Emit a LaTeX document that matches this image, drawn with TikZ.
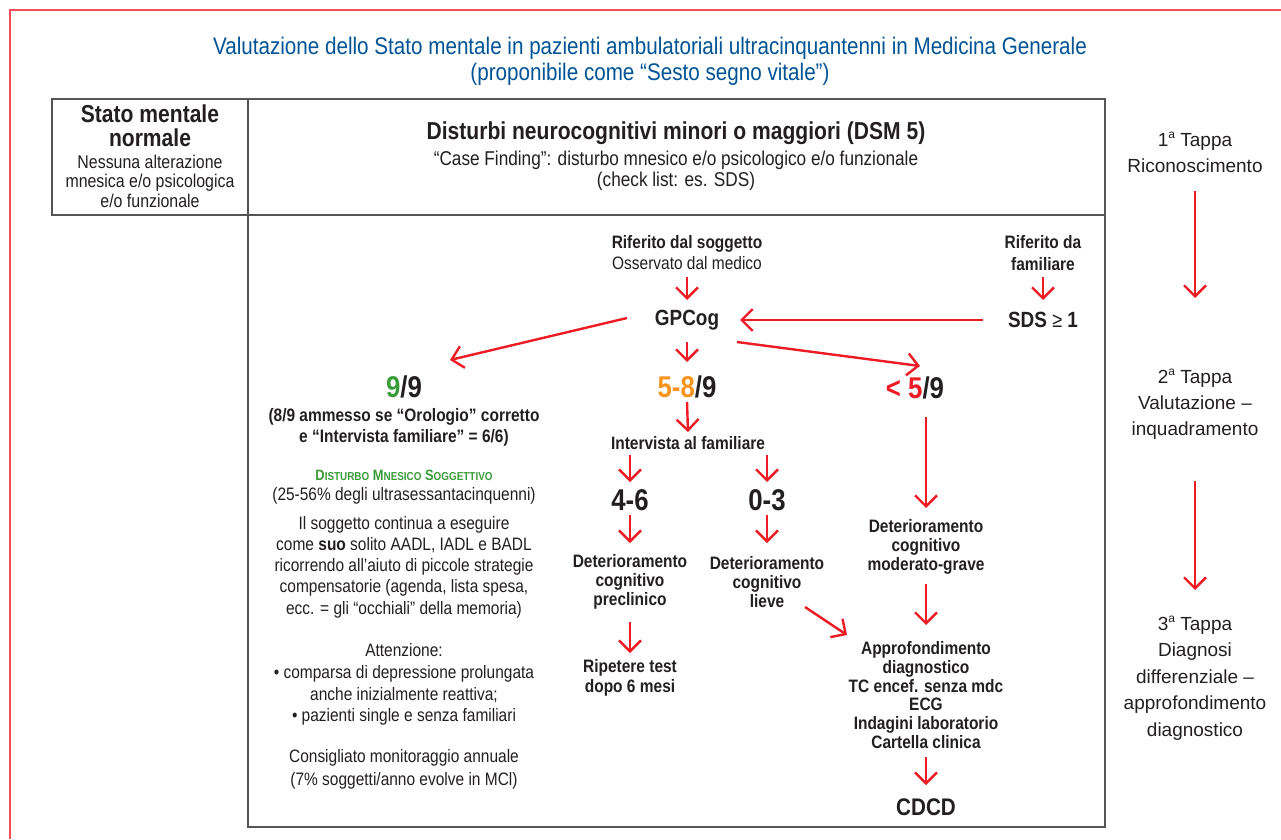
\documentclass[tikz,border=0pt]{standalone}
\usepackage{fontspec}
\setmainfont{Liberation Sans}[FakeStretch=0.86]
\newfontfamily\widefont{Liberation Sans}
\usetikzlibrary{arrows.meta}
\definecolor{ink}{RGB}{35,31,32}
\definecolor{arrred}{RGB}{237,28,36}
\definecolor{framered}{RGB}{242,76,88}
\definecolor{titleblue}{RGB}{0,84,150}
\definecolor{okgreen}{RGB}{57,155,58}
\definecolor{midorange}{RGB}{247,148,29}
\definecolor{rulegray}{RGB}{85,85,85}
\newcommand\fsz[2]{\fontsize{#1}{#2}\selectfont}
\newcommand\supa{\raisebox{0.42em}{\fontsize{12}{12}\selectfont a}}
\begin{document}
\begin{tikzpicture}[x=1pt,y=-1pt,
  arr/.style={draw=arrred, line width=2.4pt, -{Straight Barb[length=11pt,width=22pt]}},
  txt/.style={inner sep=0pt, align=center, text=ink},
  bb/.style={txt, font=\fsz{18}{18.7}\bfseries},
  rr/.style={txt, font=\fsz{18}{21.3}},
  big/.style={txt, font=\fsz{30}{30}\bfseries},
  tap/.style={txt, font=\widefont\fsz{19}{26}},
  frame/.style={draw=framered, line width=2pt},
  tab/.style={draw=rulegray, line width=1.3pt}
]
\useasboundingbox (0,0) rectangle (1281,839);
% outer red frame
\draw[frame] (10,839) -- (10,10) -- (1281,10);
% table
\draw[tab] (52,99) rectangle (248,215);
\draw[tab] (248,99) rectangle (1105,215);
\draw[tab] (248,215) rectangle (1105,827);

% title
\node[txt, text=titleblue, font=\fsz{24}{26}] (title) at (650,61)
  {Valutazione dello Stato mentale in pazienti ambulatoriali ultracinquantenni in Medicina Generale\\(proponibile come “Sesto segno vitale”)};

% header row
\node[txt, font=\fsz{24.5}{24}\bfseries] (normT) at (150,126) {Stato mentale\\normale};
\node[txt, font=\fsz{18.5}{19.5}] (normD) at (150,181) {Nessuna alterazione\\mnesica e/o psicologica\\e/o funzionale};
\node[txt, font=\fsz{24.5}{25}\bfseries] (dsm) at (676,133) {Disturbi neurocognitivi minori o maggiori (DSM 5)};
\node[txt, font=\fsz{20}{21}] (cf) at (676,171) {“Case Finding”: disturbo mnesico e/o psicologico e/o funzionale\\(check list: es. SDS)};

% right column
\node[tap] (t1) at (1195,152.5) {1\supa{} Tappa\\Riconoscimento};
\node[tap] (t2) at (1195,404) {2\supa{} Tappa\\Valutazione –\\inquadramento};
\node[tap, font=\widefont\fsz{19}{26.5}] (t3) at (1195,678) {3\supa{} Tappa\\Diagnosi\\differenziale –\\approfondimento\\diagnostico};
\draw[arr] ([yshift=-38.5pt]t1.center) -- ([yshift=106pt]t2.center);
\draw[arr] ([yshift=-77pt]t2.center) -- ([yshift=88pt]t3.center);

% top of flow
\node[txt, font=\fsz{18}{21}] (rif) at (687,252.5) {\textbf{Riferito dal soggetto}\\Osservato dal medico};
\node[bb, font=\fsz{18}{22}\bfseries] (fam) at (1043,253) {Riferito da\\familiare};
\node[txt, font=\fsz{22}{22}\bfseries] (gp) at (687,320) {GPCog};
\node[txt, font=\fsz{22}{22}\bfseries] (sds) at (1043,320) {SDS {\mdseries\fsz{21}{21}≥} 1};
\draw[arr] ([yshift=-24.5pt]rif.center) -- ([yshift=20pt]gp.center);
\draw[arr] ([yshift=-24pt]fam.center) -- ([yshift=20pt]sds.center);
\draw[arr] ([xshift=-60pt]sds.center) -- ([xshift=53pt]gp.center);

% scores
\node[big] (nine) at (404,387) {\textcolor{okgreen}{9}/9};
\node[big] (mid) at (687,387) {\textcolor{midorange}{5-8}/9};
\node[big] (low) at (915,388) {\textcolor{arrred}{< 5}/9};
\draw[arr] ([xshift=-60pt,yshift=2pt]gp.center) -- ([xshift=46pt,yshift=27pt]nine.center);
\draw[arr] ([yshift=-22pt]gp.center) -- ([yshift=25pt]mid.center);
\draw[arr] ([xshift=50pt,yshift=-22pt]gp.center) -- ([xshift=5pt,yshift=22pt]low.center);

% left column (9/9)
\node[bb, font=\fsz{18}{21}\bfseries] (nineA) at (404,427.5) {(8/9 ammesso se “Orologio” corretto\\e “Intervista familiare” = 6/6)};
\node[txt, text=okgreen, font=\fsz{15}{15}\bfseries] (dms) at (404,475)
  {D{\fsz{11.5}{11.5}ISTURBO} M{\fsz{11.5}{11.5}NESICO} S{\fsz{11.5}{11.5}OGGETTIVO}};
\node[rr] (perc) at (404,495.5) {(25-56\% degli ultrasessantacinquenni)};
\node[rr] (cont) at (404,567) {Il soggetto continua a eseguire\\come \textbf{suo} solito AADL, IADL e BADL\\ricorrendo all’aiuto di piccole strategie\\compensatorie (agenda, lista spesa,\\ecc. = gli “occhiali” della memoria)};
\node[rr, font=\fsz{18}{21.7}] (att) at (404,684.5) {Attenzione:\\• comparsa di depressione prolungata\\anche inizialmente reattiva;\\• pazienti single e senza familiari};
\node[rr, font=\fsz{18}{23}] (mon) at (404,769.5) {Consigliato monitoraggio annuale\\(7\% soggetti/anno evolve in MCl)};

% middle column
\node[bb] (int) at (688,443) {Intervista al familiare};
\node[big] (a46) at (630,500) {4-6};
\node[big] (a03) at (767,500) {0-3};
\node[bb] (pre) at (630,582) {Deterioramento\\cognitivo\\preclinico};
\node[bb] (lie) at (767,582) {Deterioramento\\cognitivo\\lieve};
\node[bb, font=\fsz{18}{19.5}\bfseries] (rip) at (630,678) {Ripetere test\\dopo 6 mesi};
\draw[arr] ([yshift=-15pt]mid.center) -- ([yshift=11pt]int.center);
\draw[arr] ([xshift=-58pt,yshift=-12pt]int.center) -- ([yshift=18pt]a46.center);
\draw[arr] ([xshift=79pt,yshift=-12pt]int.center) -- ([yshift=18pt]a03.center);
\draw[arr] ([yshift=-15pt]a46.center) -- ([yshift=39pt]pre.center);
\draw[arr] ([yshift=-15pt]a03.center) -- ([yshift=39pt]lie.center);
\draw[arr] ([yshift=-40pt]pre.center) -- ([yshift=25pt]rip.center);

% right branch
\node[bb] (mod) at (926,547) {Deterioramento\\cognitivo\\moderato-grave};
\node[bb, font=\fsz{18}{18.8}\bfseries] (app) at (926,695) {Approfondimento\\diagnostico\\TC encef. senza mdc\\ECG\\Indagini laboratorio\\Cartella clinica};
\node[txt, font=\fsz{24}{24}\bfseries] (cdcd) at (926,807) {CDCD};
\draw[arr] ([xshift=11pt,yshift=-29pt]low.center) -- ([yshift=39pt]mod.center);
\draw[arr] ([yshift=-37pt]mod.center) -- ([yshift=70pt]app.center);
\draw[arr] ([yshift=-62pt]app.center) -- ([yshift=22pt]cdcd.center);
\draw[arr] ([xshift=38pt,yshift=-25pt]lie.center) -- ([xshift=-79pt,yshift=60pt]app.center);
\end{tikzpicture}
\end{document}
